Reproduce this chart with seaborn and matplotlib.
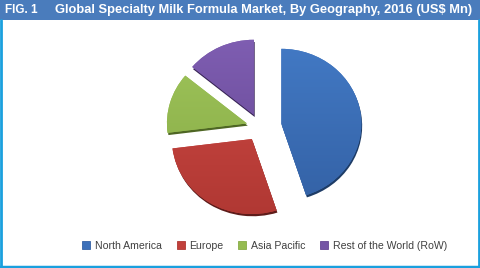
import matplotlib
matplotlib.use("Agg")
import matplotlib.pyplot as plt
import seaborn as sns
import numpy as np
from matplotlib.patches import Rectangle, Wedge
from matplotlib.lines import Line2D
from matplotlib.colors import to_rgb
import matplotlib.transforms as mtransforms

# Data
regions = ["North America", "Europe", "Asia Pacific", "Rest of the World (RoW)"]
shares = [45, 28, 13, 14]
colors = ["#3C70BA", "#C1403B", "#95BB50", "#7556A5"]
top_colors = ["#4279C4", "#CB4742", "#9EC45A", "#7F5EB2"]
bottom_colors = ["#3462A6", "#B03833", "#88AB46", "#664894"]
edge_colors = ["#1E3C66", "#5E1C1A", "#4E6624", "#3A2658"]
explode = [0.27, 0.19, 0.17, 0.18]
title = "Global Specialty Milk Formula Market, By Geography, 2016 (US$ Mn)"
fig_label = "FIG. 1"

sns.set_style("white")
plt.rcParams["font.family"] = ["DejaVu Sans"]

W, H = 480, 268
fig = plt.figure(figsize=(W / 100, H / 100), dpi=100)
fig.patch.set_facecolor("white")

# Title bar
fig.patches.append(Rectangle((0, (H - 20) / H), 1, 20 / H, transform=fig.transFigure,
                             facecolor="#4A7CBC", edgecolor="none", zorder=0))
fig.text(5 / W, (H - 10) / H, fig_label, color="white", fontsize=8.5, fontweight="bold",
         va="center", ha="left", family="Liberation Sans")
fig.text(55 / W, (H - 10) / H, title, color="white", fontsize=9.3, fontweight="bold",
         va="center", ha="left", family="Liberation Sans")

# Border (left, right, bottom)
bc = "#1AA0DE"
fig.lines.append(Line2D([1 / W, 1 / W], [0, (H - 20) / H], transform=fig.transFigure, color=bc, lw=2))
fig.lines.append(Line2D([(W - 1) / W, (W - 1) / W], [0, (H - 20) / H], transform=fig.transFigure, color=bc, lw=2))
fig.lines.append(Line2D([0, 1], [1.5 / H, 1.5 / H], transform=fig.transFigure, color=bc, lw=2.5))

# Pie axes: center at (260,127) in image px; 1 unit = 80 px horizontally, 75 px vertically
cx, cy = 260, H - 127
ax = fig.add_axes([(cx - 120) / W, (cy - 112.5) / H, 240 / W, 225 / H])
wedges, _ = ax.pie(shares, colors=colors, explode=explode, startangle=90, counterclock=False,
                   wedgeprops=dict(linewidth=0))
ax.set_xlim(-1.5, 1.5)
ax.set_ylim(-1.5, 1.5)
ax.set_aspect("auto")
ax.axis("off")

# 3D-ish thickness (dark offset copy) and vertical gradient fill
shift = mtransforms.ScaledTranslation(0.6 / 72, -1.6 / 72, fig.dpi_scale_trans)
for w, tc, bcol, ec in zip(wedges, top_colors, bottom_colors, edge_colors):
    sh = Wedge(w.center, w.r, w.theta1, w.theta2, facecolor=ec, edgecolor="none",
               transform=ax.transData + shift, zorder=w.get_zorder() - 0.5)
    ax.add_patch(sh)
    cx0, cy0 = w.center
    ext = [cx0 - 1.05, cx0 + 1.05, cy0 - 1.05, cy0 + 1.05]
    t = np.linspace(0, 1, 128)[:, None]
    top = np.array(to_rgb(tc))
    bot = np.array(to_rgb(bcol))
    img = top[None, None, :] * (1 - t[:, :, None]) + bot[None, None, :] * t[:, :, None]
    img = np.repeat(img, 2, axis=1)
    im = ax.imshow(img, extent=ext, origin="upper", aspect="auto", zorder=w.get_zorder() + 0.1,
                   interpolation="bilinear")
    im.set_clip_path(w)
ax.set_xlim(-1.5, 1.5)
ax.set_ylim(-1.5, 1.5)

# Legend
handles = [Line2D([0], [0], marker="s", linestyle="none", markersize=5.5,
                  markerfacecolor=c, markeredgecolor=ec, markeredgewidth=0.6)
           for c, ec in zip(colors, bottom_colors)]
leg = fig.legend(handles, regions, loc="center", bbox_to_anchor=(265 / W, (H - 246) / H),
                 ncol=4, frameon=False, handlelength=0.6, handletextpad=0.5,
                 columnspacing=1.5, labelcolor="#404040",
                 prop=dict(family="Liberation Sans", size=7.6))

fig.savefig("out.png", dpi=100, facecolor="white")
